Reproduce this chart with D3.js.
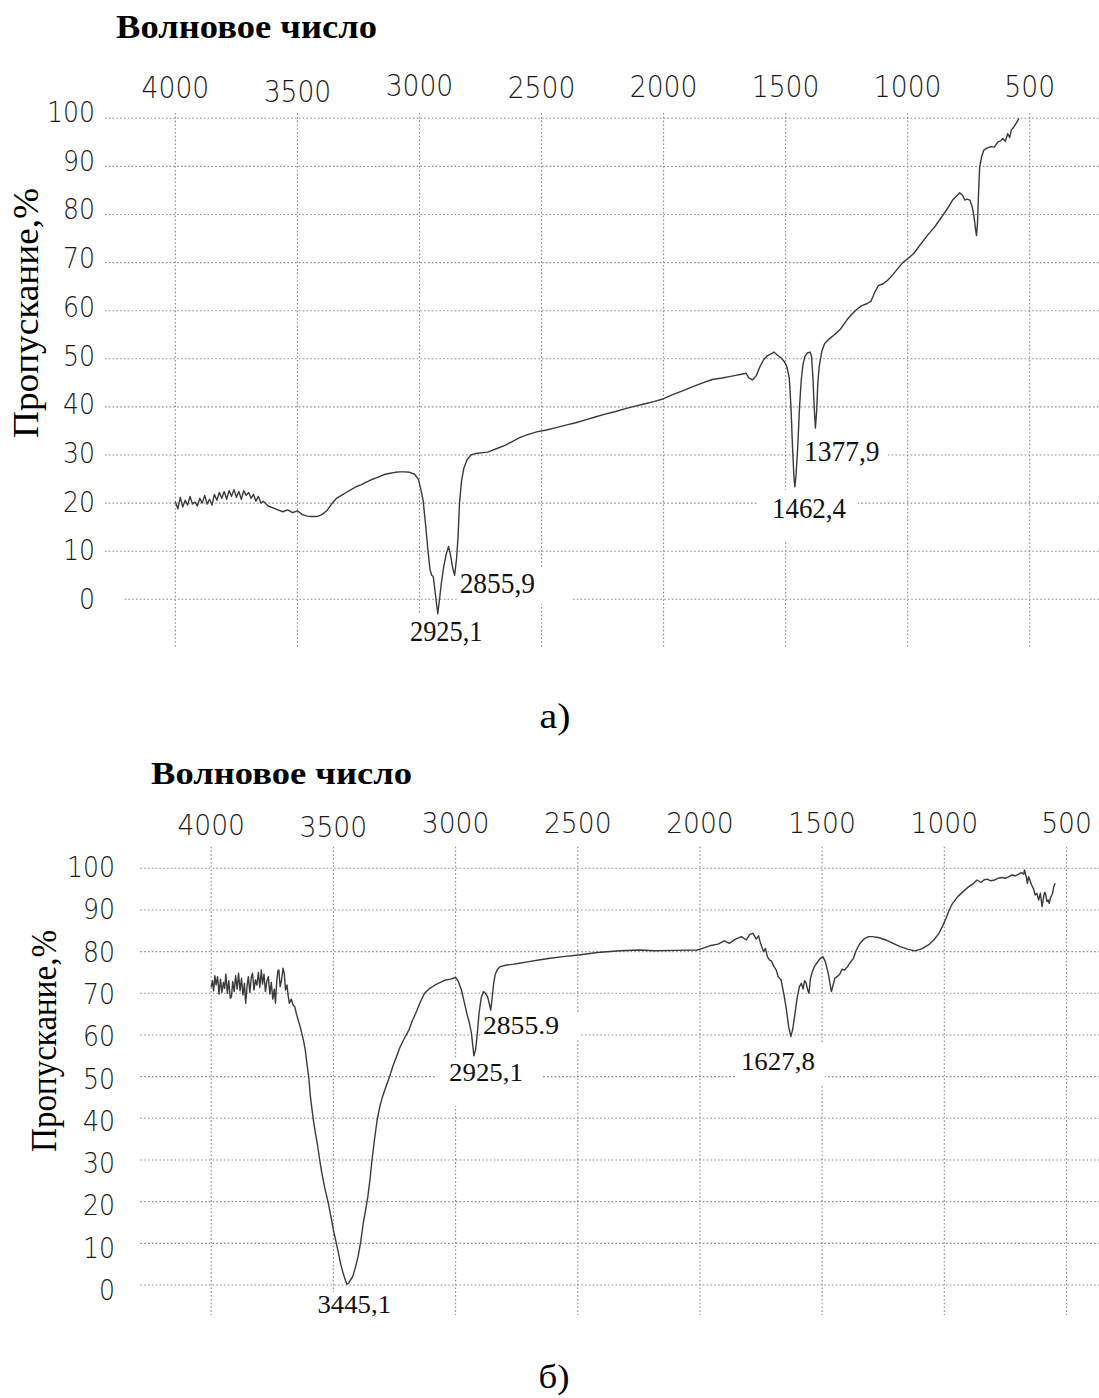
<!DOCTYPE html>
<html>
<head>
<meta charset="utf-8">
<script src="https://cdn.jsdelivr.net/npm/d3@7"></script>
<style>
  html, body { margin: 0; padding: 0; background: #fff; }
  svg { display: block; }
</style>
</head>
<body>
<div id="chart"></div>
<script>
// ---- data ----
const xTicks = [4000, 3500, 3000, 2500, 2000, 1500, 1000, 500];
const yTicks = [0, 10, 20, 30, 40, 50, 60, 70, 80, 90, 100];
const xTitle = "Волновое число";
const yTitle = "Пропускание,%";
const captions = ["а)", "б)"];

// [wavenumber, transmittance %]
const spectrumA = [
  [4000, 20.3], [3990, 18.8], [3980, 21.2], [3970, 19.2], [3960, 20.6], [3950, 19.6], [3940, 21.4],
  [3930, 19.8], [3920, 20.2], [3910, 19.4], [3900, 21.0], [3890, 20.0], [3880, 21.6], [3870, 19.8],
  [3860, 20.8], [3850, 19.6], [3840, 21.8], [3830, 20.6], [3820, 22.2], [3810, 21.0], [3800, 22.4],
  [3790, 20.8], [3780, 22.6], [3770, 21.4], [3760, 22.8], [3750, 21.2], [3740, 22.4], [3730, 20.8],
  [3720, 22.6], [3710, 21.6], [3700, 22.2], [3690, 21.0], [3680, 21.8], [3670, 20.4], [3660, 21.4],
  [3650, 20.0], [3640, 20.4], [3620, 19.4], [3600, 19.0], [3580, 18.6], [3560, 18.2], [3540, 18.6],
  [3520, 18.0], [3500, 18.4], [3480, 17.6], [3460, 17.3], [3440, 17.2], [3420, 17.2], [3400, 17.6],
  [3380, 18.4], [3360, 19.8], [3340, 21.0], [3320, 21.6], [3300, 22.2], [3280, 22.8], [3260, 23.4],
  [3240, 23.8], [3220, 24.3], [3200, 24.8], [3180, 25.2], [3160, 25.6], [3140, 26.0], [3120, 26.2],
  [3100, 26.4], [3080, 26.5], [3060, 26.5], [3040, 26.4], [3020, 26.0], [3005, 25.0], [2995, 23.0],
  [2985, 20.5], [2975, 15.5], [2965, 10.0], [2957, 6.2], [2950, 5.0], [2944, 4.8], [2937, 2.0],
  [2930, -1.0], [2925, -3.0], [2918, 0.0], [2910, 3.5], [2900, 7.0], [2890, 9.5], [2881, 11.0],
  [2872, 9.0], [2864, 6.5], [2856, 5.0], [2848, 8.5], [2842, 13.0], [2836, 20.0], [2828, 24.5],
  [2818, 27.3], [2805, 29.0], [2790, 30.0], [2770, 30.3], [2740, 30.5], [2720, 30.6], [2700, 31.0],
  [2680, 31.4], [2650, 32.0], [2620, 32.8], [2590, 33.6], [2560, 34.2], [2520, 34.8], [2480, 35.2],
  [2440, 35.7], [2400, 36.2], [2360, 36.7], [2320, 37.3], [2280, 37.9], [2240, 38.5], [2200, 39.0],
  [2160, 39.6], [2120, 40.1], [2080, 40.6], [2040, 41.1], [2000, 41.7], [1960, 42.6], [1920, 43.4],
  [1880, 44.2], [1840, 45.0], [1800, 45.7], [1760, 46.0], [1730, 46.3], [1700, 46.6], [1680, 46.8],
  [1662, 47.0], [1650, 46.0], [1636, 45.6], [1620, 46.5], [1605, 48.4], [1590, 49.8], [1576, 50.6],
  [1560, 51.0], [1548, 51.4], [1534, 50.8], [1519, 50.2], [1505, 49.4], [1495, 48.4], [1485, 46.0],
  [1478, 40.0], [1472, 32.0], [1466, 25.5], [1462, 23.4], [1457, 26.0], [1450, 32.0], [1443, 40.0],
  [1436, 45.5], [1429, 48.8], [1420, 50.6], [1411, 51.2], [1400, 51.4], [1394, 50.6], [1388, 46.0],
  [1383, 40.0], [1378, 35.6], [1373, 39.0], [1368, 45.0], [1362, 48.5], [1352, 51.5], [1340, 53.2],
  [1320, 54.2], [1300, 55.0], [1275, 56.2], [1250, 58.0], [1232, 59.1], [1210, 60.2], [1190, 61.0],
  [1165, 61.5], [1150, 62.0], [1135, 63.8], [1120, 65.2], [1100, 65.6], [1081, 66.4], [1060, 67.5],
  [1040, 68.8], [1020, 70.0], [1000, 70.8], [975, 71.9], [950, 73.6], [923, 75.4], [900, 76.8],
  [888, 77.5], [870, 78.8], [851, 80.2], [835, 81.4], [816, 83.0], [800, 83.8], [787, 84.5],
  [775, 84.0], [766, 83.0], [757, 83.2], [745, 83.0], [735, 81.5], [728, 79.5], [722, 77.0],
  [718, 75.6], [714, 78.0], [710, 84.0], [705, 89.9], [697, 92.0], [688, 93.4], [675, 93.8],
  [659, 94.1], [645, 94.0], [630, 95.1], [620, 95.3], [610, 95.8], [600, 95.2], [590, 96.8],
  [582, 96.0], [575, 97.6], [565, 98.2], [555, 99.0], [544, 100]
];
const peaksA = [
  { w: 2925.1, label: "2925,1" },
  { w: 2855.9, label: "2855,9" },
  { w: 1462.4, label: "1462,4" },
  { w: 1377.9, label: "1377,9" }
];

const spectrumB = [
  [4000, 71.5], [3995, 73.0], [3990, 70.6], [3985, 74.2], [3980, 72.0], [3974, 74.0], [3968, 69.8],
  [3962, 73.4], [3956, 70.2], [3950, 72.6], [3945, 71.2], [3940, 74.6], [3934, 70.0], [3928, 73.0],
  [3922, 68.8], [3917, 69.2], [3912, 72.8], [3906, 70.4], [3900, 74.2], [3894, 71.0], [3888, 74.8],
  [3882, 70.6], [3876, 73.6], [3870, 69.6], [3864, 72.4], [3859, 67.6], [3853, 71.8], [3848, 74.0],
  [3842, 70.2], [3836, 73.8], [3831, 74.8], [3825, 70.8], [3819, 73.2], [3813, 72.0], [3807, 75.0],
  [3801, 71.4], [3795, 75.6], [3790, 72.2], [3784, 74.6], [3778, 70.4], [3772, 73.0], [3766, 74.0],
  [3760, 69.8], [3754, 72.6], [3748, 68.6], [3742, 71.0], [3737, 67.6], [3732, 72.8], [3727, 75.4],
  [3723, 75.6], [3718, 71.6], [3712, 73.2], [3706, 76.0], [3701, 74.8], [3696, 70.8], [3690, 72.0],
  [3685, 69.4], [3680, 67.6], [3672, 68.6], [3665, 67.2], [3658, 66.8], [3651, 65.0], [3644, 63.6],
  [3636, 62.0], [3629, 60.4], [3622, 58.6], [3615, 56.4], [3608, 53.0], [3601, 50.0], [3594, 45.2],
  [3588, 42.4], [3582, 39.6], [3574, 36.6], [3565, 33.6], [3556, 30.0], [3547, 26.8], [3535, 23.2],
  [3522, 20.0], [3510, 16.4], [3500, 13.2], [3490, 10.6], [3479, 7.6], [3470, 5.0], [3460, 2.8],
  [3450, 1.0], [3445, 0.2], [3438, 0.4], [3430, 1.2], [3421, 2.0], [3410, 4.2], [3399, 6.8],
  [3388, 10.4], [3378, 14.8], [3368, 18.0], [3359, 21.2], [3350, 25.4], [3342, 30.0], [3332, 34.8],
  [3321, 39.6], [3310, 42.8], [3299, 45.2], [3285, 47.6], [3270, 50.0], [3256, 52.6], [3242, 54.8],
  [3228, 57.0], [3213, 58.8], [3200, 60.2], [3191, 61.2], [3177, 63.4], [3163, 65.2], [3145, 67.8],
  [3127, 70.0], [3105, 71.2], [3084, 72.0], [3062, 72.6], [3041, 73.2], [3020, 73.4], [3000, 73.8],
  [2990, 73.0], [2976, 70.8], [2965, 68.0], [2954, 65.2], [2944, 63.0], [2935, 60.4], [2925, 55.0],
  [2918, 56.5], [2910, 61.0], [2904, 65.2], [2895, 69.0], [2886, 70.4], [2878, 70.0], [2869, 69.2],
  [2862, 67.5], [2856, 66.0], [2850, 69.0], [2845, 72.0], [2838, 74.5], [2828, 75.8], [2818, 76.4],
  [2790, 76.8], [2760, 77.0], [2739, 77.2], [2700, 77.6], [2660, 78.0], [2613, 78.4], [2560, 78.8],
  [2496, 79.2], [2420, 79.8], [2327, 80.2], [2250, 80.4], [2184, 80.2], [2100, 80.3], [2012, 80.4],
  [1990, 80.8], [1960, 81.4], [1926, 81.8], [1900, 82.6], [1880, 82.0], [1854, 83.0], [1830, 83.6],
  [1810, 82.8], [1795, 84.2], [1783, 84.4], [1770, 83.0], [1760, 83.8], [1752, 82.0], [1740, 80.0],
  [1732, 80.8], [1724, 78.8], [1716, 78.0], [1708, 77.8], [1697, 76.4], [1688, 75.6], [1680, 74.0],
  [1668, 73.2], [1656, 69.6], [1646, 66.0], [1637, 62.0], [1628, 59.6], [1620, 61.5], [1611, 65.2],
  [1602, 69.0], [1593, 71.6], [1585, 72.4], [1578, 71.0], [1572, 73.0], [1566, 72.6], [1560, 71.0],
  [1554, 70.0], [1548, 73.5], [1540, 75.2], [1532, 76.4], [1520, 77.4], [1510, 78.2], [1497, 78.8],
  [1487, 77.6], [1480, 76.0], [1475, 74.8], [1468, 72.4], [1462, 70.4], [1455, 72.0], [1448, 73.6],
  [1439, 74.0], [1428, 74.6], [1418, 75.8], [1408, 75.6], [1396, 76.4], [1385, 77.4], [1372, 78.4],
  [1360, 80.4], [1345, 82.0], [1325, 83.2], [1310, 83.6], [1296, 83.6], [1270, 83.4], [1239, 82.8],
  [1210, 82.0], [1180, 81.2], [1150, 80.6], [1122, 80.2], [1095, 80.6], [1065, 81.6], [1040, 83.0],
  [1022, 84.4], [1008, 86.0], [993, 88.0], [980, 90.0], [966, 91.6], [945, 93.2], [923, 94.4],
  [900, 95.6], [880, 96.4], [866, 97.2], [850, 96.6], [838, 97.2], [825, 97.4], [810, 97.0],
  [794, 97.2], [780, 97.6], [765, 97.8], [750, 97.6], [735, 98.0], [723, 98.4], [710, 98.2],
  [695, 98.6], [685, 99.0], [675, 98.6], [672, 99.6], [665, 98.0], [660, 96.4], [655, 98.0],
  [650, 97.2], [643, 96.0], [636, 95.2], [628, 93.6], [621, 94.0], [614, 92.4], [607, 94.0],
  [600, 90.8], [595, 92.6], [590, 94.2], [586, 94.0], [580, 92.0], [575, 92.4], [571, 91.6],
  [565, 93.0], [560, 93.6], [557, 94.0], [552, 95.6], [547, 96.4]
];
const peaksB = [
  { w: 3445.1, label: "3445,1" },
  { w: 2925.1, label: "2925,1" },
  { w: 2855.9, label: "2855.9" },
  { w: 1627.8, label: "1627,8" }
];

// ---- layout (pixel positions) ----
const layoutA = {
  xLeft: 175.4, xRight: 1029.7, yZero: 599.3, yFull: 118.3,
  gridLeft: 105, zeroLeft: 124.6, gridTop: 113, gridBottom: 647,
  titleX: 116, titleBase: 38, titleSize: 34,
  tickBase: 97, tickSize: 30, tickNudge: [1, 5, -1, 1, 0, 0, 0, 0],
  yLabZero: 599, yLabFull: 112, yLabRight: 95,
  yTitleX: 38, yTitleY: 313, yTitleLen: 250,
  annSize: 30,
  // dx from peak, baseline y, width, box pads [left, top, right, bottom]
  ann: [
    [-27.8, 641, 72.5, [5, 27, 7, 9]],
    [5, 593, 75.4, [3, 25, 36, 11]],
    [-22.8, 518, 74, [14, 28, 12, 22]],
    [-11.4, 461, 75.6, [4, 24, 8, 7]]
  ],
  caption: [555, 728, 36]
};
const layoutB = {
  xLeft: 211.2, xRight: 1066.5, yZero: 1285, yFull: 868.3,
  gridLeft: 140.4, zeroLeft: 140.4, gridTop: 846.7, gridBottom: 1315,
  titleX: 151, titleBase: 783.5, titleSize: 32,
  tickBase: 833.3, tickSize: 27.5, tickNudge: [2, 4, -0.5, 0, 0, 0, 0, 0],
  yLabZero: 1290, yLabFull: 867, yLabRight: 115,
  yTitleX: 56, yTitleY: 1041, yTitleLen: 222,
  annSize: 26,
  ann: [
    [-29.3, 1313, 73.5, [5, 21, 5, 7]],
    [-24.9, 1081, 74, [14, 23, 19, 25]],
    [-7.8, 1034, 76, [1, 22, 20, 6]],
    [-50, 1070, 74, [5, 28, 10, 16]]
  ],
  caption: [554, 1388, 34]
};

const serif = "'Liberation Serif', 'Times New Roman', serif";
const sans = "'DejaVu Sans ExtraLight', 'DejaVu Sans', Verdana, sans-serif";

const svg = d3.select("#chart").append("svg")
  .attr("width", 1099)
  .attr("height", 1398)
  .style("background", "#fff");

function drawChart(spectrum, peaks, L, caption) {
  const g = svg.append("g");

  const x = d3.scaleLinear().domain([4000, 500]).range([L.xLeft, L.xRight]);
  const y = d3.scaleLinear().domain([0, 100]).range([L.yZero, L.yFull]);
  const yLab = d3.scaleLinear().domain([0, 100]).range([L.yLabZero, L.yLabFull]);

  // dotted grid
  g.append("g").selectAll("line")
    .data(yTicks)
    .join("line")
    .attr("x1", d => d === 0 ? L.zeroLeft : L.gridLeft)
    .attr("x2", 1099)
    .attr("y1", d => y(d))
    .attr("y2", d => y(d))
    .attr("stroke", "#8c8c8c")
    .attr("stroke-width", 1.1)
    .attr("stroke-dasharray", "1.6,2.2");

  g.append("g").selectAll("line")
    .data(xTicks)
    .join("line")
    .attr("x1", d => x(d))
    .attr("x2", d => x(d))
    .attr("y1", L.gridTop)
    .attr("y2", L.gridBottom)
    .attr("stroke", "#8c8c8c")
    .attr("stroke-width", 1.1)
    .attr("stroke-dasharray", "1.6,2.2");

  // white label boxes hide the grid behind peak labels
  g.append("g").selectAll("rect")
    .data(peaks)
    .join("rect")
    .attr("x", (d, i) => x(d.w) + L.ann[i][0] - L.ann[i][3][0])
    .attr("y", (d, i) => L.ann[i][1] - L.ann[i][3][1])
    .attr("width", (d, i) => L.ann[i][2] + L.ann[i][3][0] + L.ann[i][3][2])
    .attr("height", (d, i) => L.ann[i][3][1] + L.ann[i][3][3])
    .attr("fill", "#fff");

  // spectrum
  const line = d3.line()
    .x(d => x(d[0]))
    .y(d => y(d[1]));

  g.append("path")
    .datum(spectrum)
    .attr("d", line)
    .attr("fill", "none")
    .attr("stroke", "#3a3a3a")
    .attr("stroke-width", 1.4)
    .attr("stroke-linejoin", "round");

  // peak labels
  g.append("g").selectAll("text")
    .data(peaks)
    .join("text")
    .attr("x", (d, i) => x(d.w) + L.ann[i][0])
    .attr("y", (d, i) => L.ann[i][1])
    .attr("textLength", (d, i) => L.ann[i][2])
    .attr("lengthAdjust", "spacingAndGlyphs")
    .style("font-family", serif)
    .style("font-size", L.annSize + "px")
    .style("fill", "#111")
    .text(d => d.label);

  // top axis labels
  g.append("g").selectAll("text")
    .data(xTicks)
    .join("text")
    .attr("x", d => x(d))
    .attr("y", (d, i) => L.tickBase + L.tickNudge[i])
    .attr("text-anchor", "middle")
    .attr("textLength", d => String(d).length * 16.9)
    .attr("lengthAdjust", "spacingAndGlyphs")
    .style("font-family", sans)
    .style("font-weight", 200)
    .style("font-size", L.tickSize + "px")
    .style("fill", "#1a1a1a")
    .text(d => d);

  // left axis labels
  g.append("g").selectAll("text")
    .data(yTicks)
    .join("text")
    .attr("x", L.yLabRight)
    .attr("y", d => yLab(d) + 10)
    .attr("text-anchor", "end")
    .attr("textLength", d => String(d).length * 16)
    .attr("lengthAdjust", "spacingAndGlyphs")
    .style("font-family", sans)
    .style("font-weight", 200)
    .style("font-size", "27.5px")
    .style("fill", "#1a1a1a")
    .text(d => d);

  // titles
  g.append("text")
    .attr("x", L.titleX)
    .attr("y", L.titleBase)
    .attr("textLength", 261)
    .attr("lengthAdjust", "spacingAndGlyphs")
    .style("font-family", serif)
    .style("font-weight", "bold")
    .style("font-size", L.titleSize + "px")
    .style("fill", "#000")
    .text(xTitle);

  g.append("text")
    .attr("transform", `translate(${L.yTitleX},${L.yTitleY}) rotate(-90)`)
    .attr("text-anchor", "middle")
    .attr("textLength", L.yTitleLen)
    .attr("lengthAdjust", "spacingAndGlyphs")
    .style("font-family", serif)
    .style("font-size", "36px")
    .style("fill", "#000")
    .text(yTitle);

  g.append("text")
    .attr("x", L.caption[0])
    .attr("y", L.caption[1])
    .attr("text-anchor", "middle")
    .attr("textLength", 31)
    .attr("lengthAdjust", "spacingAndGlyphs")
    .style("font-family", serif)
    .style("font-size", L.caption[2] + "px")
    .style("fill", "#000")
    .text(caption);
}

drawChart(spectrumA, peaksA, layoutA, captions[0]);
drawChart(spectrumB, peaksB, layoutB, captions[1]);
</script>
</body>
</html>
